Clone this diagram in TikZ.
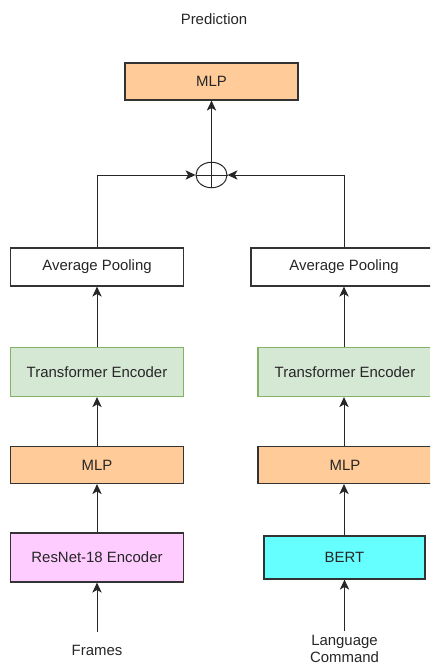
\documentclass[tikz,border=0pt]{standalone}
\usepackage{fontspec}
\setmainfont{Liberation Sans}
\usetikzlibrary{arrows.meta,shapes.geometric}

\definecolor{mlporange}{HTML}{FFCC99}
\definecolor{encgreen}{HTML}{D5E8D4}
\definecolor{encgreenline}{HTML}{82B366}
\definecolor{resnetpink}{HTML}{FFCCFF}
\definecolor{bertcyan}{HTML}{66FFFF}
\definecolor{boxline}{HTML}{333333}

\tikzset{
  block/.style={draw=boxline, line width=0.9pt, rectangle, inner sep=0pt,
    font=\fontsize{11.2}{13}\selectfont, text=black!85},
  mlpblock/.style={block, fill=mlporange},
  encblock/.style={block, fill=encgreen, draw=encgreenline},
  poolblock/.style={block, fill=white},
  label/.style={font=\fontsize{11.2}{12.5}\selectfont, text=black!85, align=center},
  flow/.style={-{Stealth[length=7.5pt,width=7pt,inset=2pt]}, line width=0.75pt, draw=black!85},
}

\begin{document}
\begin{tikzpicture}[x=0.75pt, y=-0.75pt]
  \useasboundingbox (0,0) rectangle (430,664);
  \clip (0,0) rectangle (430,664);

  % top
  \node[label] (pred) at (214,19) {Prediction};
  \node[mlpblock, minimum width=173*0.75pt, minimum height=37*0.75pt] (mlptop) at (211.5,81.5) {MLP};
  \node[draw=black!85, line width=0.75pt, ellipse, minimum width=31*0.75pt, minimum height=25.5*0.75pt, inner sep=0pt] (sum) at (211.5,175) {};
  \draw[line width=0.75pt, black!85] (sum.north) -- (sum.south) (sum.west) -- (sum.east);

  % frames branch
  \node[poolblock, minimum width=173*0.75pt, minimum height=38*0.75pt] (poolL) at (97,267) {Average Pooling};
  \node[encblock, minimum width=173*0.75pt, minimum height=49*0.75pt] (encL) at (97,372) {Transformer Encoder};
  \node[mlpblock, minimum width=173*0.75pt, minimum height=37*0.75pt] (mlpL) at (97,465) {MLP};
  \node[block, fill=resnetpink, minimum width=173*0.75pt, minimum height=49*0.75pt] (resnet) at (97,557.5) {ResNet-18 Encoder};
  \node[label] (frames) at (97,650) {Frames};
  \coordinate (inL) at (97,632);

  % language branch
  \node[poolblock, minimum width=186*0.75pt, minimum height=38*0.75pt] (poolR) at (344,267) {Average Pooling};
  \node[encblock, minimum width=174*0.75pt, minimum height=49*0.75pt] (encR) at (345,372) {Transformer Encoder};
  \node[mlpblock, minimum width=174*0.75pt, minimum height=37*0.75pt] (mlpR) at (345,465) {MLP};
  \node[block, fill=bertcyan, minimum width=161*0.75pt, minimum height=43*0.75pt] (bert) at (344.5,557.5) {BERT};
  \node[label, anchor=south, inner sep=0pt] (lang) at (344.5,663) {Language\\Command};
  \coordinate (inR) at (344.5,631);

  % connectors
  \draw[flow] (sum) -- (mlptop);
  \draw[flow] (poolL.north) |- (sum.west);
  \draw[flow] (poolR.north) |- (sum.east);
  \draw[flow] (encL) -- (poolL);
  \draw[flow] (mlpL) -- (encL);
  \draw[flow] (resnet) -- (mlpL);
  \draw[flow] (inL) -- (resnet);
  \draw[flow] (encR.north -| poolR.north) -- (poolR);
  \draw[flow] (mlpR.north -| poolR.north) -- (encR.south -| poolR.north);
  \draw[flow] (bert.north -| poolR.north) -- (mlpR.south -| poolR.north);
  \draw[flow] (inR) -- (bert);
\end{tikzpicture}
\end{document}
